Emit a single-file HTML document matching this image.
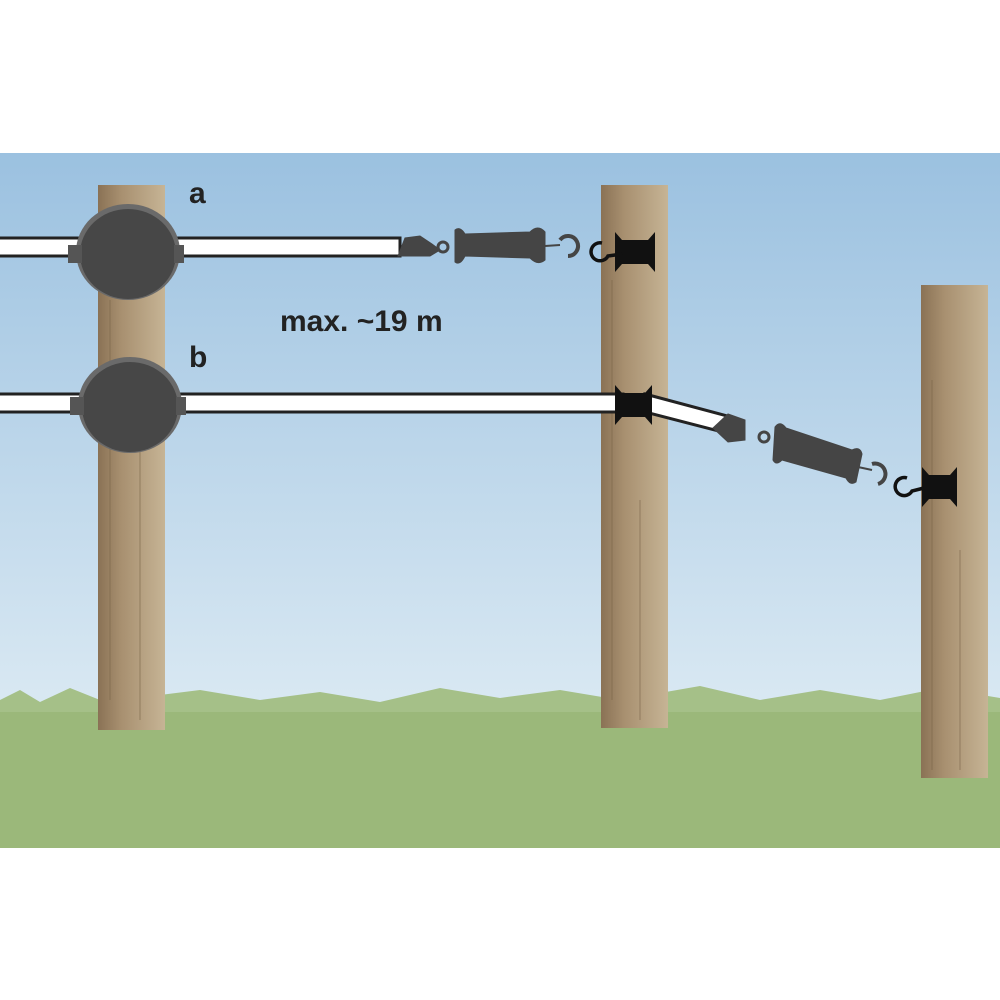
<!DOCTYPE html>
<html><head><style>body{margin:0;background:#fff}svg{display:block}</style></head><body>
<svg width="1000" height="1000" viewBox="0 0 1000 1000" xmlns="http://www.w3.org/2000/svg">
<defs>
<linearGradient id="sky" x1="0" y1="0" x2="0" y2="1"><stop offset="0" stop-color="#9bc1e0"/><stop offset="1" stop-color="#dae9f3"/></linearGradient>
<linearGradient id="wood" x1="0" y1="0" x2="1" y2="0"><stop offset="0" stop-color="#8a7255"/><stop offset="0.35" stop-color="#a89070"/><stop offset="1" stop-color="#c6b495"/></linearGradient>
</defs>
<rect x="0" y="153" width="1000" height="560" fill="url(#sky)"/>
<rect x="0" y="712" width="1000" height="136" fill="#9bb87a"/>
<path d="M0 712 L0 700 L20 690 L40 702 L70 688 L100 700 L160 695 L200 690 L260 700 L320 692 L380 702 L440 688 L500 698 L560 690 L620 700 L700 686 L760 700 L820 690 L880 700 L940 688 L1000 698 L1000 712Z" fill="#a5c088"/>
<!-- posts -->
<rect x="98" y="185" width="67" height="545" fill="url(#wood)"/>
<rect x="601" y="185" width="67" height="543" fill="url(#wood)"/>
<rect x="921" y="285" width="67" height="493" fill="url(#wood)"/>
<g stroke="#7a6448" stroke-width="1" opacity="0.6">
<line x1="110" y1="300" x2="110" y2="700"/><line x1="140" y1="450" x2="140" y2="720"/>
<line x1="612" y1="280" x2="612" y2="700"/><line x1="640" y1="500" x2="640" y2="720"/>
<line x1="932" y1="380" x2="932" y2="770"/><line x1="960" y1="550" x2="960" y2="770"/>
</g>
<!-- tape a -->
<rect x="-2" y="238" width="402" height="18" fill="#fff" stroke="#222" stroke-width="3"/>
<!-- tape b -->
<rect x="-2" y="394" width="625" height="18" fill="#fff" stroke="#222" stroke-width="3"/>
<polygon points="645,394 735,418 730,434 645,412" fill="#fff" stroke="#222" stroke-width="3"/>
<!-- insulators -->
<ellipse cx="128" cy="252" rx="52" ry="48" fill="#6a6a6a"/>
<ellipse cx="128" cy="254" rx="48" ry="45" fill="#474747"/>
<rect x="68" y="245" width="14" height="18" fill="#555"/><rect x="174" y="245" width="10" height="18" fill="#555"/>
<ellipse cx="130" cy="405" rx="52" ry="48" fill="#6a6a6a"/>
<ellipse cx="130" cy="407" rx="48" ry="45" fill="#474747"/>
<rect x="70" y="397" width="14" height="18" fill="#555"/><rect x="176" y="397" width="10" height="18" fill="#555"/>
<!-- post insulators -->
<path d="M615 232 L622 240 L648 240 L655 232 L655 272 L648 264 L622 264 L615 272Z" fill="#111"/>
<path d="M615 385 L622 393 L645 393 L652 385 L652 425 L645 417 L622 417 L615 425Z" fill="#111"/>
<path d="M922 467 L929 475 L950 475 L957 467 L957 507 L950 499 L929 499 L922 507Z" fill="#111"/>
<!-- handle a -->
<g fill="#454545" stroke="#454545">
<path d="M398 256 L405 238 L420 236 L432 244 L440 250 L430 256Z"/>
<circle cx="443" cy="247" r="5" fill="none" stroke-width="3"/>
<path d="M455 230 Q460 226 465 234 L530 232 Q538 224 545 232 L545 260 Q538 266 530 258 L465 256 Q460 266 455 262Z"/>
<line x1="545" y1="246" x2="560" y2="245" stroke-width="2"/>
<path d="M560 240 A10 10 0 1 1 568 256" fill="none" stroke-width="4"/>
</g>
<path d="M602 243 A9 9 0 1 0 608 256 L622 254" fill="none" stroke="#111" stroke-width="3.5"/>
<!-- handle b -->
<g fill="#454545" stroke="#454545">
<path d="M713 428 L728 414 L745 420 L745 440 L728 442Z"/>
<circle cx="764" cy="437" r="5" fill="none" stroke-width="3"/>
<path d="M775 427 Q780 420 786 428 L852 450 Q860 446 862 454 L856 482 Q850 486 846 478 L782 460 Q776 466 773 460Z"/>
<line x1="858" y1="467" x2="872" y2="470" stroke-width="2"/>
<path d="M872 464 A10 10 0 1 1 878 484" fill="none" stroke-width="4"/>
</g>
<path d="M907 478 A9 9 0 1 0 912 491 L924 488" fill="none" stroke="#111" stroke-width="3.5"/>
<!-- labels -->
<g font-family="Liberation Sans, sans-serif" font-weight="bold" fill="#222">
<text x="189" y="203" font-size="30">a</text>
<text x="189" y="367" font-size="30">b</text>
<text x="280" y="331" font-size="30">max. ~19 m</text>
</g>
</svg>
</body></html>
